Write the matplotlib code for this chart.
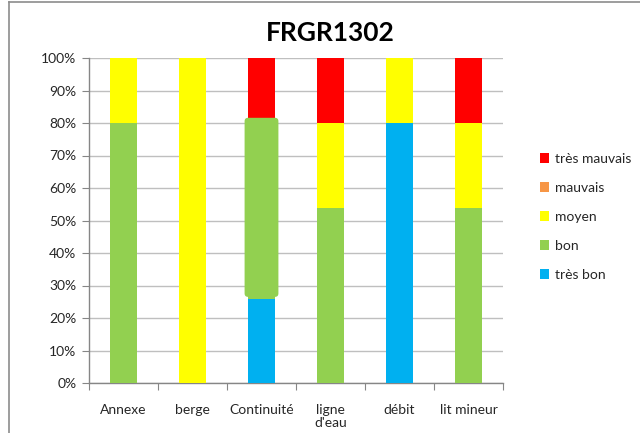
import matplotlib
matplotlib.use("Agg")
import matplotlib.pyplot as plt
from matplotlib.patches import FancyBboxPatch
from matplotlib.lines import Line2D
import numpy as np

plt.rcParams['font.family'] = ['Lato', 'DejaVu Sans']

title = "FRGR1302"
categories = ["Annexe", "berge", "Continuité", "ligne\nd'eau", "débit", "lit mineur"]
series_names = ["très bon", "bon", "moyen", "mauvais", "très mauvais"]
tres_bon = [0, 0, 26, 0, 80, 0]
bon = [80, 0, 55, 54, 0, 54]
moyen = [20, 100, 0.6, 26, 20, 26]
mauvais = [0, 0, 0, 0, 0, 0]
tres_mauvais = [0, 0, 18.4, 20, 0, 20]
colors = ["#00B0F0", "#92D050", "#FFFF00", "#F79646", "#FF0000"]
yticks = [0, 10, 20, 30, 40, 50, 60, 70, 80, 90, 100]

fig = plt.figure(figsize=(6.4, 4.33), dpi=100)
# outer chart frame
fig.add_artist(Line2D([9/640, 9/640], [0, 1 - 2/433], color="#8C8C8C", lw=1.2, transform=fig.transFigure))
fig.add_artist(Line2D([9/640, 1], [1 - 2/433, 1 - 2/433], color="#8C8C8C", lw=1.2, transform=fig.transFigure))

ax = fig.add_axes([89/640, 1 - 383/433, (503 - 89)/640, (383 - 58)/433])
x = np.arange(len(categories))
width = 0.4
bottom = np.zeros(len(categories))
bars_by_series = []
for name, vals, c in zip(series_names, [tres_bon, bon, moyen, mauvais, tres_mauvais], colors):
    b = ax.bar(x, vals, width, bottom=bottom, color=c, label=name, zorder=3, linewidth=0)
    bars_by_series.append(b)
    bottom = bottom + np.array(vals)

# highlighted (rounded) segment for Continuité / bon (covers bon + moyen slices)
p = bars_by_series[1][2]
q = bars_by_series[2][2]
px, py, pw = p.get_x(), p.get_y(), p.get_width()
top = q.get_y() + q.get_height()
padx = 0.045
pady = 0.5
fb = FancyBboxPatch((px - padx, py + pady), pw + 2 * padx, top - py - pady,
                    boxstyle="round,pad=0,rounding_size=0.05", mutation_aspect=21,
                    facecolor="#92D050", edgecolor="none", zorder=4)
ax.add_patch(fb)

ax.set_ylim(0, 100)
ax.set_xlim(-0.5, len(categories) - 0.5)
ax.set_yticks(yticks)
ax.set_yticklabels([f"{v}%" for v in yticks], fontsize=10, color="#262626")
ax.yaxis.grid(True, color="#BFBFBF", lw=1, zorder=0)
ax.set_xticks(np.arange(-0.5, len(categories), 1))
ax.set_xticklabels([])
ax.set_xticks(x, minor=True)
ax.set_xticklabels(categories, minor=True, fontsize=10, color="#262626", linespacing=1.15)
ax.tick_params(axis='x', which='minor', length=0, pad=15)
ax.tick_params(axis='x', which='major', length=5, color="#868686", direction='out')
ax.tick_params(axis='y', length=5, color="#868686", direction='out', pad=4)
for s in ["top", "right"]:
    ax.spines[s].set_visible(False)
for s in ["left", "bottom"]:
    ax.spines[s].set_color("#868686")
    ax.spines[s].set_linewidth(1)
ax.set_axisbelow(True)

fig.text(330/640, 1 - 33/433, title, ha="center", va="center",
         fontsize=19, fontweight="bold", color="black")

h, l = ax.get_legend_handles_labels()
leg = fig.legend(h[::-1], l[::-1], loc="center left", bbox_to_anchor=(527/640, 1 - 217/433),
                 frameon=False, fontsize=10, handlelength=0.7, handleheight=0.7,
                 labelspacing=1.22, handletextpad=0.4)
for t in leg.get_texts():
    t.set_color("#262626")

fig.savefig("out.png", dpi=100)
